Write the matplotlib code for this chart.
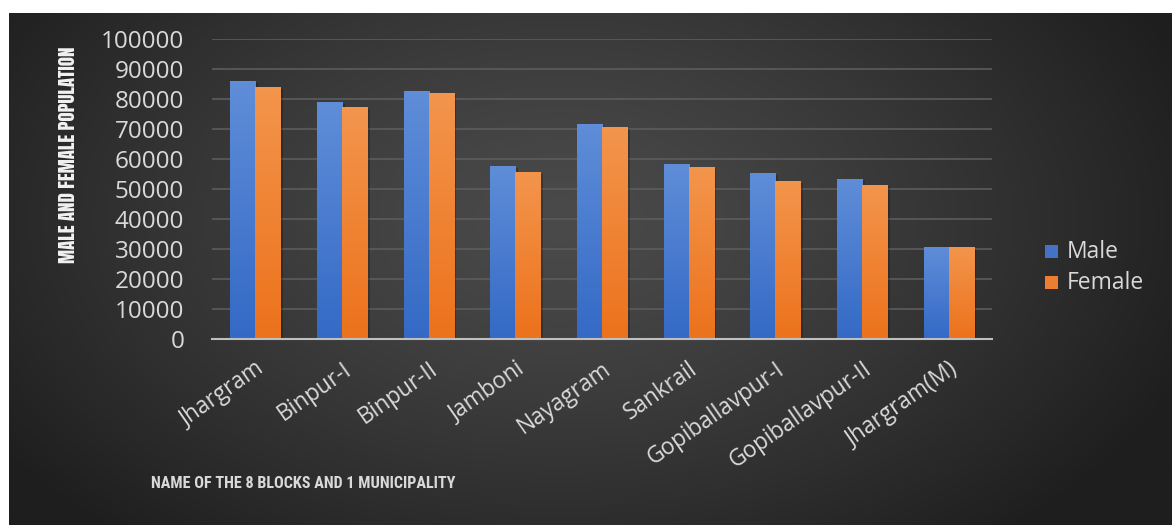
import numpy as np
import matplotlib
matplotlib.use("Agg")
import matplotlib.pyplot as plt
from matplotlib import font_manager as fm
from matplotlib.font_manager import FontProperties
from matplotlib.patches import Rectangle

categories = ["Jhargram", "Binpur-I", "Binpur-II", "Jamboni", "Nayagram",
              "Sankrail", "Gopiballavpur-I", "Gopiballavpur-II", "Jhargram(M)"]
male = [86100, 79000, 82700, 57800, 71700, 58400, 55400, 53500, 30800]
female = [84200, 77300, 82000, 55800, 70800, 57300, 52800, 51500, 30700]
series_names = ["Male", "Female"]
yticks = [0, 10000, 20000, 30000, 40000, 50000, 60000, 70000, 80000, 90000, 100000]
ytick_labels = [str(v) for v in yticks]
y_title = "MALE AND FEMALE POPULATION"
x_title = "NAME OF THE 8 BLOCKS AND 1 MUNICIPALITY"

names = {f.name for f in fm.fontManager.ttflist}


def pick(cands):
    for c in cands:
        if c in names:
            return c
    return "DejaVu Sans"


def fprop(family, weight="normal", size=10):
    path = fm.findfont(FontProperties(family=family, weight=weight), fallback_to_default=True)
    return FontProperties(fname=path, size=size)


f_cond = pick(["Anton", "Fjalla One", "Oswald", "Roboto Condensed", "Liberation Sans"])
f_title = pick(["Roboto Condensed", "PT Sans Narrow", "Archivo Narrow", "Carlito", "Open Sans"])
f_body = pick(["Open Sans", "Noto Sans", "DejaVu Sans"])

W, H = 1172, 525
fig = plt.figure(figsize=(W / 100, H / 100), dpi=100, facecolor="white")
renderer = fig.canvas.get_renderer()


def fitted(s, family, target, weight="normal"):
    p = fprop(family, weight, 10)
    t = fig.text(0, 0, s, fontproperties=p)
    w = t.get_window_extent(renderer).width
    t.remove()
    return fprop(family, weight, 10 * target / w)


# background gradient area
bx0, by_top = 9, 13
bg = fig.add_axes([bx0 / W, 0, 1 - bx0 / W, (H - by_top) / H])
bg.set_axis_off()
nx, ny = 400, 200
xx, yy = np.meshgrid(np.linspace(bx0, W, nx), np.linspace(by_top, H, ny))
cx, cy = 560, 220
r = np.sqrt(((xx - cx) / 680) ** 2 + ((yy - cy) / 420) ** 2)
t = np.clip(r, 0, 1) ** 1.3
c0 = np.array([0x4a, 0x4a, 0x4a]) / 255
c1 = np.array([0x1e, 0x1e, 0x1e]) / 255
img = c0[None, None, :] * (1 - t[..., None]) + c1[None, None, :] * t[..., None]
bg.imshow(img, aspect="auto", extent=[0, 1, 0, 1], origin="upper")
bg.set_xlim(0, 1)
bg.set_ylim(0, 1)

# main axes
x_l, x_r = 212, 992
y_top, y_bot = 39.3, 339.3
ax = fig.add_axes([x_l / W, (H - y_bot) / H, (x_r - x_l) / W, (y_bot - y_top) / H])
ax.set_facecolor("none")

n = len(categories)
x = np.arange(n)
bw = 0.29
colors_top = [np.array([0x5f, 0x8d, 0xd8]) / 255, np.array([0xf3, 0x95, 0x4c]) / 255]
colors_bot = [np.array([0x34, 0x6a, 0xc6]) / 255, np.array([0xec, 0x72, 0x1c]) / 255]
flat = ["#4472c4", "#ed7d31"]

for si, vals in enumerate([male, female]):
    offs = (si - 0.5) * bw
    bars = ax.bar(x + offs, vals, width=bw, color=flat[si], zorder=3, linewidth=0,
                  label=series_names[si])
    for b in bars:
        x0 = b.get_x()
        h = b.get_height()
        sh = Rectangle((x0 + 0.03, 0), bw, h - 600, facecolor="black", alpha=0.22,
                       linewidth=0, zorder=2)
        ax.add_patch(sh)
        g = np.linspace(0, 1, 64)[:, None]
        grad = colors_top[si][None, None, :] * (1 - g[..., None]) + colors_bot[si][None, None, :] * g[..., None]
        grad = np.repeat(grad, 2, axis=1)
        im = ax.imshow(grad, extent=[x0, x0 + bw, 0, h], aspect="auto", zorder=4,
                       origin="upper")
        im.set_clip_path(b)

ax.set_xlim(-0.5, n - 0.5)
ax.set_ylim(0, 100000)
ax.set_yticks(yticks)
p_y = fitted("100000", f_body, 84)
ax.set_yticklabels(ytick_labels, fontproperties=p_y, color="#d9d9d9")
ax.yaxis.grid(True, color="#5c5c5c", linewidth=1.2, zorder=0)
ax.set_axisbelow(True)
for s in ["top", "right", "left"]:
    ax.spines[s].set_visible(False)
ax.spines["bottom"].set_color("#bfbfbf")
ax.spines["bottom"].set_linewidth(1.5)
ax.spines["bottom"].set_zorder(5)
ax.tick_params(axis="y", length=0, pad=20)
ax.tick_params(axis="x", length=0, pad=13)
ax.set_xticks(x)
p_x = fitted("Gopiballavpur-II", f_body, 168)
ax.set_xticklabels(categories, rotation=35, ha="right", va="top",
                   rotation_mode="anchor", fontproperties=p_x, color="#d9d9d9")

p_yt = fitted(y_title, f_cond, 215, weight="bold")
fig.text(68 / W, 1 - 154.5 / H, y_title, rotation=90,
         ha="center", va="center", fontproperties=p_yt,
         color="#f2f2f2")
p_xt = fitted(x_title, f_title, 304, weight="bold")
fig.text(151 / W, 1 - 483 / H, x_title,
         ha="left", va="center", fontproperties=p_xt,
         color="#d9d9d9")

# legend
p_leg = fitted("Male", f_body, 52)
for i, (nm, col) in enumerate(zip(series_names, flat)):
    yc = 251.5 + i * 31.5
    fig.patches.append(Rectangle((1045 / W, 1 - (yc + 6) / H), 13 / W, 13 / H,
                                 transform=fig.transFigure, facecolor=col,
                                 linewidth=0, figure=fig))
    fig.text(1067 / W, 1 - yc / H, nm, ha="left", va="center", fontproperties=p_leg,
             color="#d9d9d9")

fig.savefig("out.png", dpi=100, facecolor="white")
